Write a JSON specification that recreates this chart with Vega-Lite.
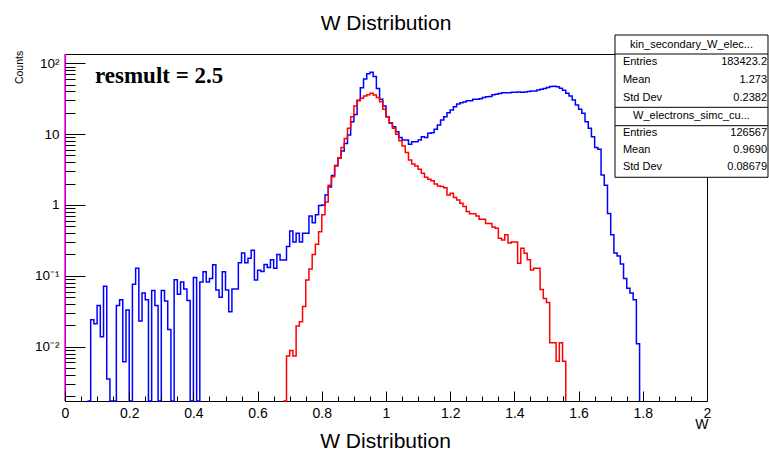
{
  "$schema": "https://vega.github.io/schema/vega-lite/v6.json",
  "width": 642,
  "height": 347,
  "autosize": {"type": "none"},
  "padding": {"left": 65, "top": 54, "right": 62, "bottom": 49},
  "background": "white",
  "config": {"view": {"stroke": "black", "strokeWidth": 1}, "font": "Liberation Sans"},
  "title": {"text": "W Distribution", "fontSize": 21, "fontWeight": "normal", "font": "Liberation Sans", "color": "black", "anchor": "middle", "frame": "group", "baseline": "alphabetic", "offset": -16},
  "datasets": {
    "blue": [
      {"W":0.07,"counts":0.00171},{"W":0.08,"counts":0.024},{"W":0.09,"counts":0.021},{"W":0.10,"counts":0.038},{"W":0.11,"counts":0.0138},{"W":0.12,"counts":0.071},{"W":0.13,"counts":0.0035},{"W":0.14,"counts":0.00171},{"W":0.15,"counts":0.00171},{"W":0.16,"counts":0.038},{"W":0.17,"counts":0.046},{"W":0.18,"counts":0.0061},{"W":0.19,"counts":0.033},{"W":0.20,"counts":0.00171},{"W":0.21,"counts":0.076},{"W":0.22,"counts":0.128},{"W":0.23,"counts":0.023},{"W":0.24,"counts":0.057},{"W":0.25,"counts":0.046},{"W":0.26,"counts":0.00171},{"W":0.27,"counts":0.062},{"W":0.28,"counts":0.038},{"W":0.29,"counts":0.00171},{"W":0.30,"counts":0.062},{"W":0.31,"counts":0.044},{"W":0.32,"counts":0.0174},{"W":0.33,"counts":0.00171},{"W":0.34,"counts":0.088},{"W":0.35,"counts":0.055},{"W":0.36,"counts":0.082},{"W":0.37,"counts":0.065},{"W":0.38,"counts":0.045},{"W":0.39,"counts":0.00171},{"W":0.40,"counts":0.095},{"W":0.41,"counts":0.00171},{"W":0.42,"counts":0.082},{"W":0.43,"counts":0.114},{"W":0.44,"counts":0.082},{"W":0.45,"counts":0.092},{"W":0.46,"counts":0.143},{"W":0.47,"counts":0.063},{"W":0.48,"counts":0.050},{"W":0.49,"counts":0.114},{"W":0.50,"counts":0.063},{"W":0.51,"counts":0.031},{"W":0.52,"counts":0.065},{"W":0.53,"counts":0.065},{"W":0.54,"counts":0.153},{"W":0.55,"counts":0.21},{"W":0.56,"counts":0.153},{"W":0.57,"counts":0.177},{"W":0.58,"counts":0.23},{"W":0.59,"counts":0.087},{"W":0.60,"counts":0.12},{"W":0.61,"counts":0.115},{"W":0.62,"counts":0.145},{"W":0.63,"counts":0.131},{"W":0.64,"counts":0.168},{"W":0.65,"counts":0.128},{"W":0.66,"counts":0.2},{"W":0.67,"counts":0.167},{"W":0.68,"counts":0.167},{"W":0.69,"counts":0.26},{"W":0.70,"counts":0.43},{"W":0.71,"counts":0.30},{"W":0.72,"counts":0.40},{"W":0.73,"counts":0.30},{"W":0.74,"counts":0.40},{"W":0.75,"counts":0.40},{"W":0.76,"counts":0.70},{"W":0.77,"counts":0.56},{"W":0.78,"counts":0.73},{"W":0.79,"counts":0.98},{"W":0.80,"counts":1.0},{"W":0.81,"counts":1.38},{"W":0.82,"counts":1.8},{"W":0.83,"counts":2.6},{"W":0.84,"counts":3.6},{"W":0.85,"counts":4.6},{"W":0.86,"counts":5.8},{"W":0.87,"counts":7.4},{"W":0.88,"counts":9.7},{"W":0.89,"counts":15},{"W":0.90,"counts":19},{"W":0.91,"counts":30},{"W":0.92,"counts":45},{"W":0.93,"counts":60},{"W":0.94,"counts":71},{"W":0.95,"counts":75},{"W":0.96,"counts":65},{"W":0.97,"counts":44},{"W":0.98,"counts":31},{"W":0.99,"counts":25},{"W":1.00,"counts":17.6},{"W":1.01,"counts":14.2},{"W":1.02,"counts":12.7},{"W":1.03,"counts":10.8},{"W":1.04,"counts":9.0},{"W":1.05,"counts":8.3},{"W":1.06,"counts":8.3},{"W":1.07,"counts":7.2},{"W":1.08,"counts":7.8},{"W":1.09,"counts":7.8},{"W":1.10,"counts":8.3},{"W":1.11,"counts":9.2},{"W":1.12,"counts":9.0},{"W":1.13,"counts":10.3},{"W":1.14,"counts":10.5},{"W":1.15,"counts":11.7},{"W":1.16,"counts":13.5},{"W":1.17,"counts":15.8},{"W":1.18,"counts":17.6},{"W":1.19,"counts":20},{"W":1.20,"counts":21.9},{"W":1.21,"counts":24.4},{"W":1.22,"counts":26.7},{"W":1.23,"counts":27.7},{"W":1.24,"counts":28.5},{"W":1.25,"counts":29.5},{"W":1.26,"counts":29.5},{"W":1.27,"counts":31},{"W":1.28,"counts":31},{"W":1.29,"counts":31.5},{"W":1.30,"counts":33},{"W":1.31,"counts":33.8},{"W":1.32,"counts":34},{"W":1.33,"counts":36},{"W":1.34,"counts":36.5},{"W":1.35,"counts":37.5},{"W":1.36,"counts":38.5},{"W":1.37,"counts":38.5},{"W":1.38,"counts":38.5},{"W":1.39,"counts":39},{"W":1.40,"counts":39},{"W":1.41,"counts":39.5},{"W":1.42,"counts":39},{"W":1.43,"counts":39.5},{"W":1.44,"counts":40},{"W":1.45,"counts":40.6},{"W":1.46,"counts":40.6},{"W":1.47,"counts":42},{"W":1.48,"counts":43},{"W":1.49,"counts":44},{"W":1.50,"counts":45.5},{"W":1.51,"counts":47},{"W":1.52,"counts":47.5},{"W":1.53,"counts":46.8},{"W":1.54,"counts":44.4},{"W":1.55,"counts":41.8},{"W":1.56,"counts":37.7},{"W":1.57,"counts":34.5},{"W":1.58,"counts":30.3},{"W":1.59,"counts":25.7},{"W":1.60,"counts":22.4},{"W":1.61,"counts":19.7},{"W":1.62,"counts":15},{"W":1.63,"counts":12.1},{"W":1.64,"counts":9.2},{"W":1.65,"counts":6.5},{"W":1.66,"counts":6.1},{"W":1.67,"counts":2.65},{"W":1.68,"counts":1.9},{"W":1.69,"counts":0.76},{"W":1.70,"counts":0.38},{"W":1.71,"counts":0.21},{"W":1.72,"counts":0.19},{"W":1.73,"counts":0.147},{"W":1.74,"counts":0.092},{"W":1.75,"counts":0.067},{"W":1.76,"counts":0.057},{"W":1.77,"counts":0.046},{"W":1.78,"counts":0.011},{"W":1.79,"counts":0.00171}
    ],
    "red": [
      {"W":0.68,"counts":0.00171},{"W":0.69,"counts":0.0074},{"W":0.70,"counts":0.0088},{"W":0.71,"counts":0.0074},{"W":0.72,"counts":0.0195},{"W":0.73,"counts":0.0225},{"W":0.74,"counts":0.037},{"W":0.75,"counts":0.087},{"W":0.76,"counts":0.125},{"W":0.77,"counts":0.2},{"W":0.78,"counts":0.28},{"W":0.79,"counts":0.42},{"W":0.80,"counts":0.73},{"W":0.81,"counts":1.1},{"W":0.82,"counts":1.9},{"W":0.83,"counts":2.5},{"W":0.84,"counts":3.55},{"W":0.85,"counts":4.57},{"W":0.86,"counts":6.5},{"W":0.87,"counts":8.7},{"W":0.88,"counts":12.1},{"W":0.89,"counts":17.6},{"W":0.90,"counts":25},{"W":0.91,"counts":29.7},{"W":0.92,"counts":32},{"W":0.93,"counts":34.5},{"W":0.94,"counts":36},{"W":0.95,"counts":37.7},{"W":0.96,"counts":35.7},{"W":0.97,"counts":33},{"W":0.98,"counts":28.7},{"W":0.99,"counts":22.4},{"W":1.00,"counts":17.6},{"W":1.01,"counts":14.5},{"W":1.02,"counts":12.1},{"W":1.03,"counts":10},{"W":1.04,"counts":8.1},{"W":1.05,"counts":6.8},{"W":1.06,"counts":5.5},{"W":1.07,"counts":4.3},{"W":1.08,"counts":3.8},{"W":1.09,"counts":3.55},{"W":1.10,"counts":3.2},{"W":1.11,"counts":2.8},{"W":1.12,"counts":2.46},{"W":1.13,"counts":2.3},{"W":1.14,"counts":2.2},{"W":1.15,"counts":1.98},{"W":1.16,"counts":1.85},{"W":1.17,"counts":1.82},{"W":1.18,"counts":1.75},{"W":1.19,"counts":1.38},{"W":1.20,"counts":1.46},{"W":1.21,"counts":1.28},{"W":1.22,"counts":1.18},{"W":1.23,"counts":1.06},{"W":1.24,"counts":0.95},{"W":1.25,"counts":0.81},{"W":1.26,"counts":0.75},{"W":1.27,"counts":0.75},{"W":1.28,"counts":0.70},{"W":1.29,"counts":0.63},{"W":1.30,"counts":0.63},{"W":1.31,"counts":0.55},{"W":1.32,"counts":0.55},{"W":1.33,"counts":0.49},{"W":1.34,"counts":0.47},{"W":1.35,"counts":0.34},{"W":1.36,"counts":0.32},{"W":1.37,"counts":0.38},{"W":1.38,"counts":0.29},{"W":1.39,"counts":0.30},{"W":1.40,"counts":0.30},{"W":1.41,"counts":0.15},{"W":1.42,"counts":0.245},{"W":1.43,"counts":0.208},{"W":1.44,"counts":0.168},{"W":1.45,"counts":0.121},{"W":1.46,"counts":0.128},{"W":1.47,"counts":0.128},{"W":1.48,"counts":0.064},{"W":1.49,"counts":0.048},{"W":1.50,"counts":0.042},{"W":1.51,"counts":0.0114},{"W":1.52,"counts":0.0114},{"W":1.53,"counts":0.0062},{"W":1.54,"counts":0.0114},{"W":1.55,"counts":0.0062},{"W":1.56,"counts":0.00171}
    ]
  },
  "resolve": {"axis": {"x": "independent", "y": "independent"}},
  "layer": [
    {
      "data": {"name": "blue"},
      "mark": {"type": "line", "interpolate": "step-after", "color": "#0000ff", "strokeWidth": 1.5},
      "encoding": {
        "x": {"field": "W", "type": "quantitative",
          "scale": {"domain": [0, 2], "nice": false, "zero": false},
          "axis": {"orient": "bottom", "values": [0,0.2,0.4,0.6,0.8,1,1.2,1.4,1.6,1.8,2], "format": "~g", "tickSize": -10, "tickColor": "black", "tickWidth": 1, "domain": false, "grid": false, "labelFontSize": 14, "labelFont": "Liberation Sans", "labelColor": "black", "labelPadding": 15, "labelFlush": false, "labelOverlap": false, "title": "W", "titleFontSize": 14, "titleFont": "Liberation Sans", "titleFontWeight": "normal", "titleColor": "black", "titleAnchor": "end", "titleAlign": "right", "titleBaseline": "alphabetic", "titleX": 643, "titleY": 27, "zindex": 1}},
        "y": {"field": "counts", "type": "quantitative",
          "scale": {"type": "log", "domain": [0.00171, 135.3], "nice": false, "zero": false},
          "axis": {"orient": "left", "values": [0.01, 0.1, 1, 10, 100], "labelExpr": "datum.value >= 50 ? '10²' : datum.value >= 5 ? '10' : datum.value >= 0.5 ? '1' : datum.value >= 0.05 ? '10⁻¹' : '10⁻²'", "tickSize": -20, "tickColor": "black", "tickWidth": 1, "domain": false, "grid": false, "labelFontSize": 13.5, "labelFont": "Liberation Sans", "labelColor": "black", "labelPadding": 26, "labelOverlap": false, "labelFlush": false, "title": null, "zindex": 1}}
      }
    },
    {
      "data": {"name": "red"},
      "mark": {"type": "line", "interpolate": "step-after", "color": "#ff0000", "strokeWidth": 1.5},
      "encoding": {
        "x": {"field": "W", "type": "quantitative",
          "axis": {"orient": "bottom", "values": [0.05,0.1,0.15,0.25,0.3,0.35,0.45,0.5,0.55,0.65,0.7,0.75,0.85,0.9,0.95,1.05,1.1,1.15,1.25,1.3,1.35,1.45,1.5,1.55,1.65,1.7,1.75,1.85,1.9,1.95], "tickSize": -5, "tickColor": "black", "tickWidth": 1, "labels": false, "domain": false, "grid": false, "title": "W Distribution", "titleFontSize": 21, "titleFont": "Liberation Sans", "titleFontWeight": "normal", "titleColor": "black", "titleAnchor": "middle", "titleBaseline": "alphabetic", "titleX": 320, "titleY": 46, "zindex": 1}},
        "y": {"field": "counts", "type": "quantitative",
          "axis": {"orient": "left", "values": [0.002,0.003,0.004,0.005,0.006,0.007,0.008,0.009,0.02,0.03,0.04,0.05,0.06,0.07,0.08,0.09,0.2,0.3,0.4,0.5,0.6,0.7,0.8,0.9,2,3,4,5,6,7,8,9,20,30,40,50,60,70,80,90], "tickSize": -10, "tickColor": "black", "tickWidth": 1, "labels": false, "domain": false, "grid": false, "title": null, "zindex": 1}}
      }
    },
    {
      "data": {"values": [{}]},
      "mark": {"type": "rule", "color": "#ff00ff", "strokeWidth": 1.5},
      "encoding": {"x": {"datum": 0, "type": "quantitative", "axis": null}}
    },
    {
      "data": {"values": [{}]},
      "mark": {"type": "text", "text": "Counts", "fontSize": 10.5, "angle": 270, "align": "center", "baseline": "middle", "color": "black"},
      "encoding": {"x": {"datum": -0.1402, "type": "quantitative", "axis": null}, "y": {"datum": 87.3, "type": "quantitative", "axis": null}}
    },
    {
      "data": {"values": [{}]},
      "mark": {"type": "text", "text": "resmult = 2.5", "font": "Liberation Serif", "fontWeight": "bold", "fontSize": 23, "align": "left", "baseline": "alphabetic", "color": "black"},
      "encoding": {"x": {"datum": 0.0935, "type": "quantitative", "axis": null}, "y": {"datum": 52.2, "type": "quantitative", "axis": null}}
    },
    {
      "data": {"values": [{}]},
      "mark": {"type": "rect", "fill": "white", "stroke": "black", "strokeWidth": 1},
      "encoding": {"x": {"datum": 1.7134, "type": "quantitative", "axis": null}, "x2": {"datum": 2.19}, "y": {"datum": 250.8, "type": "quantitative", "axis": null}, "y2": {"datum": 2.46}}
    },
    {
      "data": {"values": [{}]},
      "mark": {"type": "rule", "color": "black", "strokeWidth": 1},
      "encoding": {"x": {"datum": 1.7134, "type": "quantitative", "axis": null}, "x2": {"datum": 2.19}, "y": {"datum": 135.3, "type": "quantitative", "axis": null}}
    },
    {
      "data": {"values": [{}]},
      "mark": {"type": "rule", "color": "black", "strokeWidth": 1},
      "encoding": {"x": {"datum": 1.7134, "type": "quantitative", "axis": null}, "x2": {"datum": 2.19}, "y": {"datum": 23.93, "type": "quantitative", "axis": null}}
    },
    {
      "data": {"values": [{}]},
      "mark": {"type": "rule", "color": "black", "strokeWidth": 1},
      "encoding": {"x": {"datum": 1.7134, "type": "quantitative", "axis": null}, "x2": {"datum": 2.19}, "y": {"datum": 13.16, "type": "quantitative", "axis": null}}
    },
    {
      "data": {"values": [{}]},
      "mark": {"type": "text", "text": "kin_secondary_W_elec...", "fontSize": 11, "align": "center", "baseline": "middle", "color": "black"},
      "encoding": {"x": {"datum": 1.9517, "type": "quantitative", "axis": null}, "y": {"datum": 181.3, "type": "quantitative", "axis": null}}
    },
    {
      "data": {"values": [{}]},
      "mark": {"type": "text", "text": ["Entries", "Mean", "Std Dev"], "lineHeight": 18, "fontSize": 11, "align": "left", "baseline": "middle", "color": "black"},
      "encoding": {"x": {"datum": 1.738, "type": "quantitative", "axis": null}, "y": {"datum": 103.3, "type": "quantitative", "axis": null}}
    },
    {
      "data": {"values": [{}]},
      "mark": {"type": "text", "text": ["183423.2", "1.273", "0.2382"], "lineHeight": 18, "fontSize": 11, "align": "right", "baseline": "middle", "color": "black"},
      "encoding": {"x": {"datum": 2.187, "type": "quantitative", "axis": null}, "y": {"datum": 103.3, "type": "quantitative", "axis": null}}
    },
    {
      "data": {"values": [{}]},
      "mark": {"type": "text", "text": "W_electrons_simc_cu...", "fontSize": 11, "align": "center", "baseline": "middle", "color": "black"},
      "encoding": {"x": {"datum": 1.9517, "type": "quantitative", "axis": null}, "y": {"datum": 18.04, "type": "quantitative", "axis": null}}
    },
    {
      "data": {"values": [{}]},
      "mark": {"type": "text", "text": ["Entries", "Mean", "Std Dev"], "lineHeight": 17, "fontSize": 11, "align": "left", "baseline": "middle", "color": "black"},
      "encoding": {"x": {"datum": 1.738, "type": "quantitative", "axis": null}, "y": {"datum": 10.28, "type": "quantitative", "axis": null}}
    },
    {
      "data": {"values": [{}]},
      "mark": {"type": "text", "text": ["126567", "0.9690", "0.08679"], "lineHeight": 17, "fontSize": 11, "align": "right", "baseline": "middle", "color": "black"},
      "encoding": {"x": {"datum": 2.187, "type": "quantitative", "axis": null}, "y": {"datum": 10.28, "type": "quantitative", "axis": null}}
    }
  ]
}
